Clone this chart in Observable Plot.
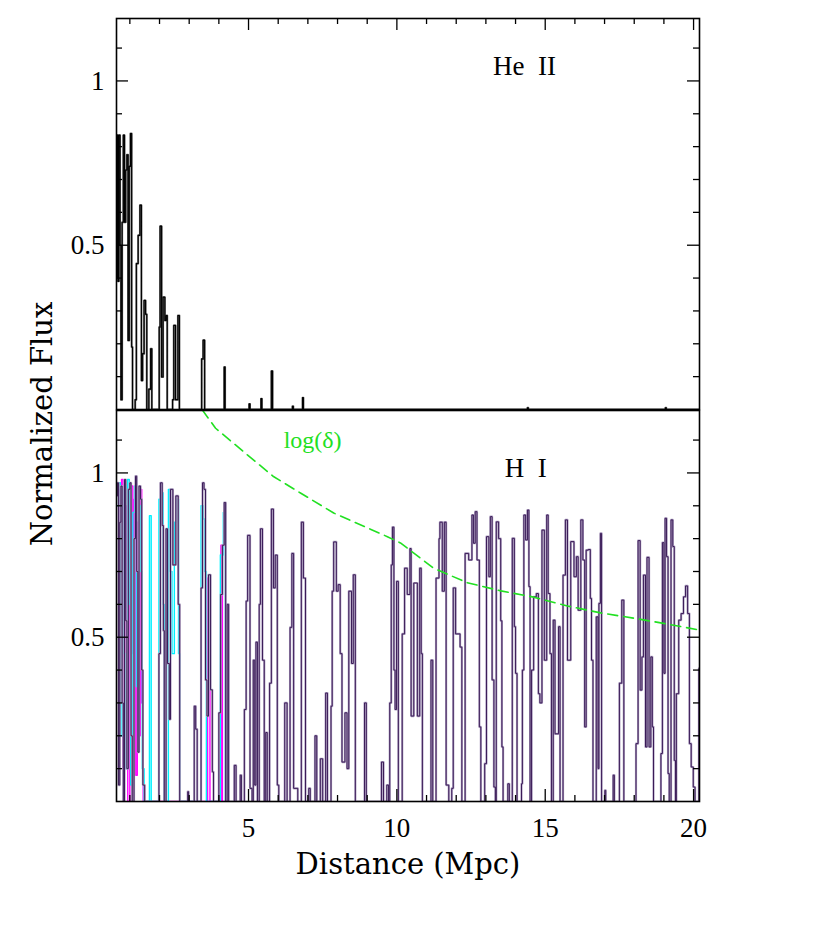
<!DOCTYPE html>
<html><head><meta charset="utf-8">
<script src="https://cdn.jsdelivr.net/npm/d3@7"></script>
<script src="https://cdn.jsdelivr.net/npm/@observablehq/plot@0.6"></script>
<style>
body{margin:0;background:#fff;}
#wrap{position:relative;width:830px;height:951px;overflow:hidden;background:#fff;}
#wrap > svg{position:absolute;left:0;}
#ylab{position:absolute;left:42px;top:424px;transform:translate(-50%,-50%) rotate(-90deg);font-family:"DejaVu Serif";font-size:29px;white-space:nowrap;color:#000;}
</style>
</head><body><div id="wrap"><div id="ylab">Normalized Flux</div></div>
<script>
// ---- axis ranges and ticks ----
const xDomain = [0.55, 20.2];
const yDomain = [0, 1.19];
const xLabelTicks = [5, 10, 15, 20];
const xMinorTicks = [1, 2, 3, 4, 6, 7, 8, 9, 11, 12, 13, 14, 16, 17, 18, 19];
const yLabelTicks = [0.5, 1];
const yMinorTicks = [0.1, 0.2, 0.3, 0.4, 0.6, 0.7, 0.8, 0.9, 1.1];

// ---- He II transmitted flux (step) ----
const heDist = [0.55,0.57,0.60,0.63,0.67,0.70,0.74,0.78,0.82,0.86,0.90,0.94,0.98,1.02,1.06,1.09,
  1.18,1.22,1.28,1.34,1.39,1.43,1.48,1.53,1.57,1.64,1.70,1.74,1.99,2.02,2.07,2.12,2.18,2.22,2.26,
  2.44,2.48,2.54,2.62,2.67,3.42,3.47,3.52,4.18,4.21,5.02,5.05,5.42,5.45,5.77,5.81,6.48,6.51,6.82,6.85,
  14.40,14.43,19.05,19.08,20.25];
const heFlux = [0.40,0.835,0.39,0.835,0.50,0.03,0.57,0.835,0.57,0.729,0.775,0.21,0.74,0.84,0.19,0.0,
  0.03,0.444,0.53,0.622,0.088,0.17,0.332,0.29,0.0,0.062,0.185,0.0,0.251,0.558,0.099,0.342,0.271,0.286,0.0,
  0.03,0.256,0.03,0.286,0.0,0.154,0.211,0.0,0.129,0.0,0.017,0.0,0.033,0.0,0.117,0.0,0.01,0.0,0.036,0.0,
  0.005,0.0,0.005,0.0,0.0];

// ---- H I transmitted flux, main sightline (step) ----
const hiDist = [0.55,0.58,0.62,0.66,0.70,0.74,0.78,0.82,0.86,0.90,0.95,1.00,1.04,1.08,1.14,1.19,1.23,1.27,1.31,1.36,1.40,1.44,1.50,
  1.98,2.03,2.09,2.13,2.16,2.22,2.27,2.33,2.37,2.45,2.55,2.63,2.68,2.95,2.98,3.17,3.22,3.27,
  3.40,3.45,3.50,3.55,3.60,3.65,3.72,3.78,3.82,4.00,4.06,4.12,4.18,4.23,4.28,4.33,
  4.52,4.58,4.72,4.76,4.86,4.92,4.97,5.05,5.12,5.16,5.21,5.25,5.30,5.36,5.40,5.47,5.53,5.58,5.63,
  5.71,5.77,5.84,5.90,5.97,6.02,6.22,6.30,6.40,6.46,6.52,6.60,6.66,6.78,6.85,6.92,7.03,7.08,7.24,7.30,
  7.42,7.50,7.60,7.66,7.78,7.82,7.87,7.96,8.02,8.09,8.15,8.25,8.32,8.38,8.47,8.53,8.60,8.91,8.97,
  9.48,9.55,9.66,9.72,9.76,9.81,9.85,9.90,9.94,9.99,10.05,10.18,10.26,10.35,10.44,10.48,10.57,10.69,10.77,10.82,10.86,
  11.15,11.21,11.32,11.42,11.45,11.53,11.60,11.66,11.75,11.85,11.90,11.98,12.13,12.19,12.30,12.42,12.53,12.58,12.64,12.70,12.78,12.83,
  12.96,13.02,13.10,13.15,13.21,13.27,13.32,13.35,13.43,13.50,13.54,13.58,13.74,13.79,13.89,13.96,14.00,14.05,
  14.20,14.23,14.28,14.34,14.40,14.45,14.49,14.54,14.61,14.70,14.77,14.82,14.89,14.97,15.05,15.10,15.16,15.21,
  15.27,15.33,15.45,15.50,15.60,15.68,15.75,15.86,15.97,16.05,16.11,16.20,16.27,16.33,16.38,16.45,16.52,16.56,16.61,
  16.72,16.78,16.81,16.86,16.90,17.01,17.04,17.29,17.33,17.50,17.58,17.65,18.06,18.13,18.20,18.26,18.31,18.38,18.43,18.50,18.56,18.61,18.65,
  18.90,18.95,19.00,19.04,19.09,19.14,19.18,19.24,19.30,19.35,19.39,19.42,19.50,19.58,19.66,19.73,19.80,19.86,19.92,19.99,20.05,20.18,20.25];
const hiFlux = [0.93,0.97,0.05,0.85,0.96,0.30,0.0,0.98,0.55,0.10,0.95,0.97,0.20,0.0,0.80,0.99,0.70,0.15,0.96,0.92,0.40,0.05,0.0,
  0.45,0.97,0.84,0.52,0.0,0.83,0.42,0.25,0.95,0.72,0.93,0.60,0.0,0.03,0.0,0.29,0.22,0.0,
  0.65,0.97,0.95,0.37,0.26,0.69,0.34,0.09,0.0,0.27,0.63,0.78,0.91,0.0,0.60,0.0,
  0.11,0.0,0.08,0.0,0.28,0.61,0.81,0.04,0.0,0.43,0.05,0.485,0.0,0.60,0.83,0.43,0.0,0.21,0.0,
  0.36,0.89,0.65,0.75,0.05,0.0,0.30,0.0,0.53,0.755,0.04,0.04,0.0,0.85,0.68,0.0,0.04,0.0,0.20,0.0,
  0.13,0.0,0.33,0.0,0.29,0.64,0.79,0.64,0.66,0.45,0.12,0.27,0.10,0.64,0.42,0.69,0.0,0.30,0.0,
  0.12,0.0,0.05,0.0,0.30,0.72,0.835,0.40,0.28,0.67,0.0,0.51,0.71,0.63,0.77,0.26,0.665,0.26,0.71,0.45,0.0,
  0.43,0.0,0.68,0.80,0.85,0.64,0.85,0.05,0.0,0.04,0.65,0.51,0.47,0.0,0.755,0.735,0.872,0.786,0.882,0.735,0.227,0.0,
  0.115,0.806,0.684,0.867,0.37,0.044,0.0,0.851,0.80,0.55,0.166,0.0,0.054,0.0,0.801,0.532,0.39,0.0,
  0.054,0.40,0.872,0.796,0.887,0.654,0.0,0.40,0.623,0.633,0.328,0.30,0.826,0.43,0.872,0.633,0.45,0.0,
  0.552,0.206,0.532,0.0,0.689,0.857,0.43,0.791,0.684,0.745,0.582,0.857,0.735,0.227,0.765,0.767,0.618,0.43,0.0,
  0.562,0.10,0.603,0.816,0.0,0.034,0.0,0.08,0.0,0.36,0.613,0.0,0.176,0.794,0.339,0.44,0.689,0.166,0.743,0.166,0.44,0.227,0.0,
  0.146,0.788,0.39,0.862,0.745,0.085,0.0,0.857,0.776,0.125,0.0,0.328,0.552,0.572,0.623,0.656,0.572,0.176,0.105,0.044,0.0,0.405,0.405];

// ---- H I other sightlines near the source (step) ----
const hiMagentaDist = [0.60,0.66,0.72,0.77,0.84,0.88,0.93,1.00,1.05,1.10,1.15,1.20,1.25,1.30,1.35,1.40,1.45,1.55,3.62,3.66,3.70,4.07,4.12,4.20];
const hiMagentaFlux = [0.95,0.40,0.98,0.10,0.90,0.30,0.0,0.75,0.96,0.45,0.92,0.08,0.85,0.20,0.95,0.30,0.0,0.0,0.68,0.58,0.0,0.78,0.0,0.0];
const hiCyanDist = [0.55,0.62,0.68,0.74,0.80,0.86,0.92,0.98,1.03,1.10,1.16,1.22,1.30,1.36,1.42,1.48,1.66,1.72,1.98,2.06,2.12,2.16,
  2.30,2.36,2.42,2.50,2.58,2.64,2.68,3.40,3.47,3.52,3.58,4.05,4.15,4.22,4.30];
const hiCyanFlux = [0.90,0.97,0.20,0.95,0.45,0.10,0.98,0.60,0.05,0.88,0.96,0.35,0.90,0.70,0.10,0.0,0.87,0.0,0.92,0.94,0.60,0.0,
  0.95,0.70,0.45,0.85,0.92,0.45,0.0,0.90,0.86,0.70,0.0,0.75,0.88,0.0,0.0];

// ---- log(delta) overdensity curve ----
const deltaDist = [3.44,3.89,4.96,5.84,6.75,7.87,9.68,10.12,11.24,12.37,13.50,14.61,15.75,16.87,17.98,19.12,20.26];
const deltaVal  = [1.192,1.136,1.055,0.989,0.939,0.878,0.806,0.787,0.710,0.666,0.641,0.622,0.595,0.574,0.558,0.540,0.521];

const toRows = (xs, ys) => xs.map((x, i) => ({x, y: ys[i]}));
const heRows = toRows(heDist, heFlux);
const hiRows = toRows(hiDist, hiFlux);
const magRows = toRows(hiMagentaDist, hiMagentaFlux);
const cyanRows = toRows(hiCyanDist, hiCyanFlux);
const deltaRows = toRows(deltaDist, deltaVal);

const W = 830, ML = 116, MR = 131;
const frameW = W - ML - MR;   // 583
const frameH = 391;
const tickFont = "Liberation Serif";
const labelFont = "DejaVu Serif";
const green = "#22e022";

function innerTicks(withTop, withBottom) {
  const marks = [
    Plot.tickY(yLabelTicks, {y: d => d, insetRight: frameW - 12, strokeWidth: 1.3}),
    Plot.tickY(yMinorTicks, {y: d => d, insetRight: frameW - 6, strokeWidth: 1.3}),
    Plot.tickY(yLabelTicks, {y: d => d, insetLeft: frameW - 12, strokeWidth: 1.3}),
    Plot.tickY(yMinorTicks, {y: d => d, insetLeft: frameW - 6, strokeWidth: 1.3})
  ];
  if (withTop) marks.push(
    Plot.tickX(xLabelTicks, {x: d => d, insetBottom: frameH - 12, strokeWidth: 1.3}),
    Plot.tickX(xMinorTicks, {x: d => d, insetBottom: frameH - 6, strokeWidth: 1.3}));
  if (withBottom) marks.push(
    Plot.tickX(xLabelTicks, {x: d => d, insetTop: frameH - 12, strokeWidth: 1.3}),
    Plot.tickX(xMinorTicks, {x: d => d, insetTop: frameH - 6, strokeWidth: 1.3}));
  return marks;
}

const yAxisLabels = () => Plot.axisY(yLabelTicks, {anchor: "left", tickSize: 0, tickPadding: 12, fontSize: 27, label: null, tickFormat: d => String(d)});

const topPlot = Plot.plot({
  width: W, height: 410, marginTop: 18, marginBottom: 1, marginLeft: ML, marginRight: MR,
  x: {domain: xDomain, axis: null},
  y: {domain: yDomain, axis: null},
  style: {background: "transparent", overflow: "visible", fontFamily: tickFont},
  marks: [
    Plot.line(heRows, {x: "x", y: "y", curve: "step-after", stroke: "#666", strokeWidth: 2, clip: true}),
    Plot.line(heRows, {x: "x", y: "y", curve: "step-after", stroke: "#000", strokeWidth: 1.1, clip: true}),
    ...innerTicks(true, false),
    yAxisLabels(),
    Plot.text(["He  II"], {x: 14.3, y: 1.045, fontSize: 27, fill: "#000"}),
    Plot.frame({stroke: "#000", strokeWidth: 1.6})
  ]
});
topPlot.style.top = "0px";

const bottomPlot = Plot.plot({
  width: W, height: 542, marginTop: 1, marginBottom: 150, marginLeft: ML, marginRight: MR,
  x: {domain: xDomain, axis: null},
  y: {domain: yDomain, axis: null},
  style: {background: "transparent", overflow: "visible", fontFamily: tickFont},
  marks: [
    Plot.line(magRows, {x: "x", y: "y", curve: "step-after", stroke: "#ff00ff", strokeWidth: 1.4, clip: true}),
    Plot.line(cyanRows, {x: "x", y: "y", curve: "step-after", stroke: "#00f0ff", strokeWidth: 1.4, clip: true}),
    Plot.line(hiRows, {x: "x", y: "y", curve: "step-after", stroke: "#b0a2c2", strokeWidth: 2.2, clip: true}),
    Plot.line(hiRows, {x: "x", y: "y", curve: "step-after", stroke: "#3a1a57", strokeWidth: 1, clip: true}),
    Plot.line(deltaRows, {x: "x", y: "y", curve: "linear", stroke: green, strokeWidth: 1.6, strokeDasharray: "10,6", clip: true}),
    ...innerTicks(false, true),
    yAxisLabels(),
    Plot.axisX(xLabelTicks, {anchor: "bottom", tickSize: 0, tickPadding: 16, fontSize: 27, label: null, tickFormat: d => String(d)}),
    Plot.text(["Distance (Mpc)"], {frameAnchor: "bottom", dy: 72, fontSize: 29, fontFamily: labelFont, fill: "#000"}),
    Plot.text(["H  I"], {x: 14.34, y: 1.015, fontSize: 27, fill: "#000"}),
    Plot.text(["log(δ)"], {x: 7.16, y: 1.10, fontSize: 24, fill: green}),
    Plot.frame({stroke: "#000", strokeWidth: 1.6})
  ]
});
bottomPlot.style.top = "409px";

const wrap = document.getElementById("wrap");
wrap.appendChild(topPlot);
wrap.appendChild(bottomPlot);
// serif text throughout, keep doubled spaces
d3.select(wrap).selectAll("svg").style("font-family", tickFont);
d3.select(wrap).selectAll("svg text").style("white-space", "pre");
</script></body></html>
